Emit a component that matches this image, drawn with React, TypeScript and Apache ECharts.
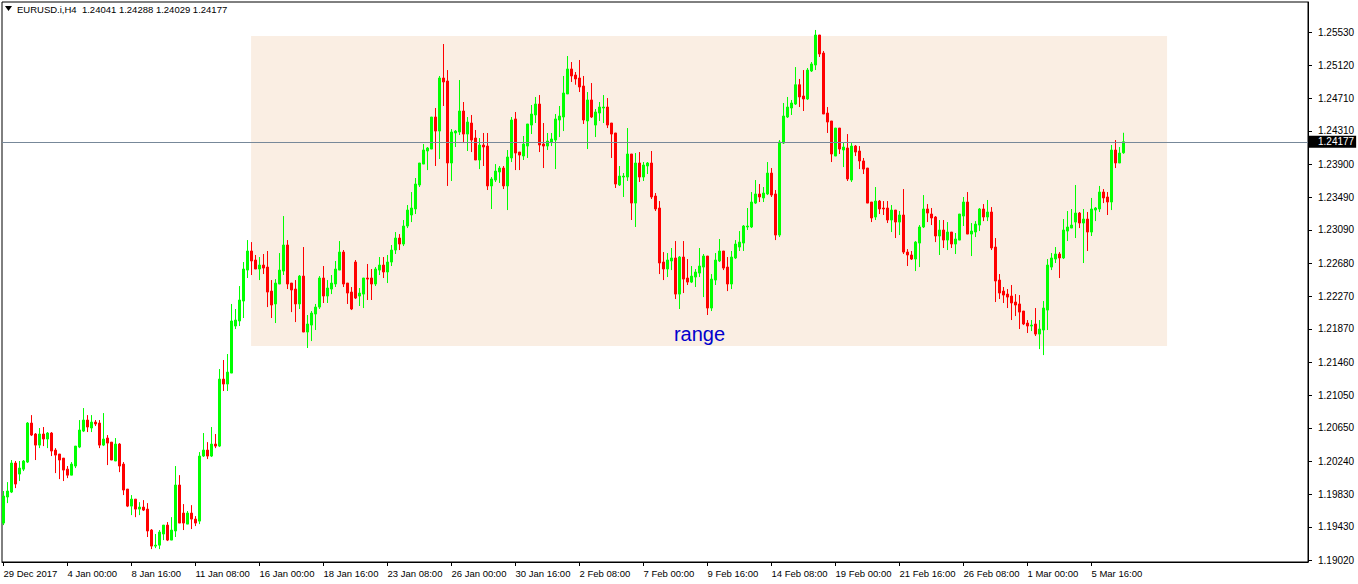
import React, { useEffect, useRef } from 'react';
import * as echarts from 'echarts';

// ---- chart text ----
const symbolTitle = 'EURUSD.i,H4';
const rangeText = 'range';

// ---- x axis: one label every 16 H4 bars ----
const barsPerLabel = 16;
const xLabels = [
  '29 Dec 2017', '4 Jan 00:00', '8 Jan 16:00', '11 Jan 08:00', '16 Jan 00:00', '18 Jan 16:00',
  '23 Jan 08:00', '26 Jan 00:00', '30 Jan 16:00', '2 Feb 08:00', '7 Feb 00:00', '9 Feb 16:00',
  '14 Feb 08:00', '19 Feb 00:00', '21 Feb 16:00', '26 Feb 08:00', '1 Mar 00:00', '5 Mar 16:00',
];

// ---- y axis ----
const yTicks = [
  1.1902, 1.1943, 1.1983, 1.2024, 1.2065, 1.2105, 1.2146, 1.2187, 1.2227,
  1.2268, 1.2309, 1.2349, 1.239, 1.2431, 1.2471, 1.2512, 1.2553,
];
const yMin = 1.18996;
const yMax = 1.259;
const xMin = -0.375;
const xMax = 326.125;

// ---- annotations ----
const bidPrice = 1.24177;
const rangeStartBar = 61.9;
const rangeEndBar = 290.9;
const rangeTop = 1.2548;
const rangeBottom = 1.2166;
const rangeLabelBar = 174;
const rangeLabelPrice = 1.2181;

// ---- OHLC (H4 bars) ----
const opens = [
  1.19476, 1.19797, 1.19858, 1.20216, 1.2008, 1.20141, 1.20228, 1.20709, 1.20574, 1.20437,
  1.20574, 1.20512, 1.20586, 1.20376, 1.20327, 1.20277, 1.20141, 1.20067, 1.20179, 1.20413,
  1.2061, 1.20746, 1.20648, 1.20721, 1.20709, 1.20437, 1.20524, 1.20474, 1.20241, 1.2045,
  1.20203, 1.19895, 1.19685, 1.19771, 1.19648, 1.19673, 1.19648, 1.1939, 1.19192, 1.19204,
  1.19341, 1.19451, 1.19266, 1.19378, 1.19945, 1.19599, 1.19463, 1.19599, 1.19525, 1.195,
  1.20302, 1.20376, 1.20302, 1.2045, 1.20425, 1.21251, 1.2119, 1.21325, 1.21905, 1.21967,
  1.22213, 1.22595, 1.2283, 1.22719, 1.22608, 1.22657, 1.22632, 1.22336, 1.22177, 1.22423,
  1.22583, 1.22904, 1.22435, 1.22361, 1.22177, 1.22521, 1.21831, 1.21917, 1.22053, 1.22139,
  1.22497, 1.22275, 1.22361, 1.22423, 1.22595, 1.22817, 1.22435, 1.22324, 1.22694, 1.22275,
  1.22299, 1.22497, 1.22497, 1.22423, 1.22595, 1.22657, 1.22571, 1.22694, 1.22842, 1.2299,
  1.22916, 1.23138, 1.23274, 1.23348, 1.23644, 1.23902, 1.24063, 1.24087, 1.24482, 1.24309,
  1.24963, 1.24926, 1.23915, 1.24285, 1.24297, 1.24556, 1.24272, 1.24408, 1.24223, 1.23952,
  1.24137, 1.24124, 1.23632, 1.23705, 1.23804, 1.23853, 1.23632, 1.23977, 1.24458, 1.2405,
  1.24001, 1.24124, 1.24383, 1.24507, 1.24642, 1.24149, 1.24124, 1.24174, 1.24198, 1.24445,
  1.24482, 1.24766, 1.25074, 1.25, 1.24963, 1.24864, 1.24433, 1.24692, 1.24383, 1.24531,
  1.24593, 1.24605, 1.24408, 1.24285, 1.23644, 1.23742, 1.23742, 1.24026, 1.23421, 1.23915,
  1.23742, 1.23878, 1.23915, 1.23508, 1.2336, 1.22694, 1.22608, 1.22707, 1.22744, 1.22299,
  1.22756, 1.22497, 1.22447, 1.22509, 1.22558, 1.22632, 1.22768, 1.22127, 1.22472, 1.22707,
  1.2283, 1.22632, 1.22423, 1.22744, 1.22879, 1.22928, 1.23126, 1.23126, 1.23421, 1.23533,
  1.23484, 1.23533, 1.23791, 1.23533, 1.23027, 1.24161, 1.24482, 1.24593, 1.24642, 1.2488,
  1.24741, 1.24704, 1.25049, 1.25123, 1.25493, 1.25271, 1.24531, 1.24433, 1.24001, 1.24346,
  1.24075, 1.241, 1.23705, 1.24124, 1.24063, 1.2394, 1.23853, 1.23434, 1.23249, 1.23446,
  1.2336, 1.2336, 1.23212, 1.23335, 1.23187, 1.23274, 1.22817, 1.22781, 1.22731, 1.22928,
  1.23126, 1.23348, 1.23286, 1.23249, 1.23015, 1.23089, 1.22965, 1.23064, 1.22916, 1.22965,
  1.23261, 1.23434, 1.23039, 1.23064, 1.2315, 1.23348, 1.23249, 1.23311, 1.22879, 1.22472,
  1.22336, 1.22299, 1.22275, 1.22201, 1.22177, 1.2209, 1.21942, 1.21905, 1.2193, 1.21806,
  1.21856, 1.22102, 1.22632, 1.22731, 1.22793, 1.22744, 1.23076, 1.23113, 1.23187, 1.23298,
  1.23175, 1.23224, 1.23064, 1.23335, 1.23348, 1.23557, 1.23496, 1.23434, 1.24075, 1.23915,
  1.24041,
];
const closes = [
  1.19809, 1.19871, 1.20216, 1.19957, 1.20154, 1.20241, 1.20709, 1.20561, 1.20437, 1.20574,
  1.20512, 1.20586, 1.20364, 1.20314, 1.20253, 1.20129, 1.20067, 1.20203, 1.20425, 1.20623,
  1.20746, 1.2066, 1.20721, 1.20697, 1.20437, 1.20512, 1.20462, 1.20253, 1.2045, 1.20179,
  1.19883, 1.19685, 1.19771, 1.19648, 1.19673, 1.19636, 1.19378, 1.19192, 1.19204, 1.19365,
  1.19451, 1.19266, 1.1939, 1.19945, 1.19476, 1.19476, 1.19599, 1.19525, 1.19476, 1.20302,
  1.20376, 1.20302, 1.2045, 1.20425, 1.21251, 1.2119, 1.21337, 1.21967, 1.21979, 1.22226,
  1.22608, 1.2283, 1.22707, 1.22608, 1.22657, 1.2262, 1.22324, 1.22164, 1.22435, 1.22595,
  1.22904, 1.22423, 1.22349, 1.22177, 1.22521, 1.21831, 1.2193, 1.22065, 1.22139, 1.22497,
  1.22275, 1.22374, 1.22435, 1.22608, 1.22817, 1.22423, 1.22312, 1.22115, 1.2225, 1.22312,
  1.22497, 1.22484, 1.22423, 1.22608, 1.22657, 1.22571, 1.22694, 1.22842, 1.2299, 1.22916,
  1.23138, 1.23335, 1.2336, 1.23656, 1.23915, 1.24075, 1.241, 1.24482, 1.24309, 1.24963,
  1.24914, 1.23915, 1.24297, 1.24309, 1.24556, 1.24272, 1.2442, 1.24198, 1.23952, 1.24137,
  1.24112, 1.23632, 1.23718, 1.23816, 1.23853, 1.23632, 1.23989, 1.24445, 1.24038, 1.24013,
  1.24149, 1.24396, 1.24519, 1.24642, 1.24137, 1.24124, 1.24186, 1.24211, 1.24458, 1.24494,
  1.24778, 1.25074, 1.24988, 1.24951, 1.24852, 1.24445, 1.24692, 1.24482, 1.24544, 1.24605,
  1.24605, 1.24383, 1.24272, 1.23656, 1.23754, 1.23754, 1.24026, 1.23421, 1.23915, 1.23742,
  1.2389, 1.23915, 1.23496, 1.23348, 1.22682, 1.22608, 1.22719, 1.22744, 1.22299, 1.22756,
  1.22484, 1.22447, 1.22521, 1.22571, 1.22645, 1.22768, 1.22127, 1.22484, 1.22719, 1.2283,
  1.2262, 1.22423, 1.22756, 1.22916, 1.2294, 1.23138, 1.23138, 1.23434, 1.23533, 1.23496,
  1.23545, 1.23791, 1.2352, 1.23027, 1.24174, 1.24494, 1.24605, 1.24655, 1.2488, 1.24729,
  1.24704, 1.25061, 1.25136, 1.25493, 1.25259, 1.24519, 1.2442, 1.24026, 1.24346, 1.24087,
  1.24112, 1.23718, 1.24124, 1.2405, 1.2394, 1.2384, 1.23421, 1.23237, 1.23446, 1.23348,
  1.23348, 1.23212, 1.23335, 1.23187, 1.23274, 1.22817, 1.22781, 1.22731, 1.2294, 1.23126,
  1.23348, 1.23298, 1.23237, 1.23015, 1.23089, 1.22965, 1.23064, 1.22916, 1.22978, 1.23286,
  1.23434, 1.23039, 1.23076, 1.23162, 1.23348, 1.23249, 1.23311, 1.22867, 1.2246, 1.22312,
  1.22287, 1.22262, 1.22189, 1.22164, 1.22077, 1.2193, 1.21905, 1.21917, 1.21806, 1.21868,
  1.22127, 1.22657, 1.22744, 1.22793, 1.22744, 1.23089, 1.23126, 1.2315, 1.23298, 1.23175,
  1.23224, 1.23064, 1.23348, 1.2336, 1.23557, 1.23484, 1.23434, 1.24075, 1.23915, 1.24038,
  1.24177,
];
const lows = [
  1.19451, 1.19722, 1.19846, 1.19907, 1.19994, 1.20117, 1.20216, 1.20549, 1.20253, 1.204,
  1.20425, 1.204, 1.20302, 1.20092, 1.20018, 1.19994, 1.2003, 1.20067, 1.20154, 1.204,
  1.20598, 1.20598, 1.20598, 1.20672, 1.204, 1.20425, 1.20191, 1.20253, 1.20241, 1.20104,
  1.19821, 1.19673, 1.19574, 1.19549, 1.19574, 1.19624, 1.19304, 1.19155, 1.19167, 1.19155,
  1.19266, 1.19254, 1.19266, 1.19304, 1.19476, 1.1939, 1.19463, 1.19402, 1.19439, 1.19463,
  1.2029, 1.20265, 1.2029, 1.204, 1.20413, 1.21104, 1.21104, 1.21325, 1.21868, 1.21905,
  1.22004, 1.22497, 1.22534, 1.22608, 1.22472, 1.22546, 1.22139, 1.22004, 1.21942, 1.22423,
  1.22534, 1.22361, 1.22077, 1.21954, 1.22115, 1.21831, 1.21634, 1.2172, 1.21856, 1.22115,
  1.22189, 1.22189, 1.22299, 1.22386, 1.22595, 1.22386, 1.22177, 1.22102, 1.22238, 1.22152,
  1.22127, 1.22226, 1.22226, 1.22398, 1.22534, 1.22497, 1.22435, 1.22645, 1.22793, 1.22842,
  1.22891, 1.23113, 1.23187, 1.23286, 1.23619, 1.23902, 1.23828, 1.24087, 1.23878, 1.23964,
  1.24618, 1.23632, 1.23693, 1.24112, 1.2426, 1.24161, 1.24063, 1.2405, 1.23952, 1.2384,
  1.23878, 1.23582, 1.23348, 1.23681, 1.23669, 1.23594, 1.23335, 1.23927, 1.23828, 1.23828,
  1.23952, 1.23977, 1.24272, 1.24408, 1.2405, 1.23853, 1.24075, 1.24124, 1.2384, 1.24235,
  1.24309, 1.24766, 1.24914, 1.2488, 1.2479, 1.24396, 1.24087, 1.2447, 1.24235, 1.24433,
  1.24408, 1.24346, 1.23977, 1.23607, 1.23632, 1.23496, 1.23693, 1.23212, 1.23126, 1.23681,
  1.23693, 1.23779, 1.23471, 1.23323, 1.22546, 1.22472, 1.22509, 1.22595, 1.22238, 1.22115,
  1.22312, 1.22411, 1.22435, 1.22386, 1.22509, 1.22262, 1.22041, 1.2209, 1.22411, 1.22694,
  1.22595, 1.22336, 1.22361, 1.22731, 1.2283, 1.2283, 1.23089, 1.23113, 1.23409, 1.23434,
  1.23434, 1.2352, 1.23496, 1.22965, 1.23002, 1.24149, 1.2447, 1.24507, 1.2463, 1.24605,
  1.24556, 1.24692, 1.25037, 1.25061, 1.25222, 1.24519, 1.24285, 1.23927, 1.24001, 1.24026,
  1.23865, 1.23693, 1.23681, 1.24001, 1.2384, 1.23779, 1.23421, 1.23187, 1.23212, 1.23286,
  1.23274, 1.23175, 1.23064, 1.2299, 1.23027, 1.22793, 1.22645, 1.22719, 1.22583, 1.22632,
  1.23113, 1.23187, 1.2315, 1.2294, 1.22781, 1.22867, 1.22842, 1.22867, 1.22793, 1.22965,
  1.23138, 1.23039, 1.22768, 1.23002, 1.23076, 1.23199, 1.23199, 1.22842, 1.22201, 1.22238,
  1.22189, 1.22127, 1.21979, 1.22028, 1.21868, 1.21917, 1.21819, 1.21843, 1.21782, 1.21621,
  1.21547, 1.21856, 1.22595, 1.22682, 1.22497, 1.22731, 1.22953, 1.23113, 1.2299, 1.23113,
  1.22682, 1.2283, 1.23015, 1.23199, 1.23311, 1.23421, 1.23274, 1.23335, 1.23853, 1.23915,
  1.24029,
];
const highs = [
  1.19871, 1.19981, 1.20253, 1.20241, 1.20241, 1.20253, 1.20721, 1.20807, 1.20586, 1.20648,
  1.2066, 1.20598, 1.20598, 1.204, 1.20327, 1.20277, 1.20179, 1.20228, 1.20425, 1.20746,
  1.20894, 1.20807, 1.20807, 1.20746, 1.20746, 1.20832, 1.20561, 1.20474, 1.20524, 1.20462,
  1.20228, 1.19895, 1.19821, 1.19771, 1.19734, 1.19759, 1.19722, 1.19402, 1.19341, 1.1939,
  1.19451, 1.19488, 1.19549, 1.20179, 1.20067, 1.1971, 1.19624, 1.19697, 1.19562, 1.20351,
  1.20586, 1.20474, 1.2066, 1.20574, 1.21375, 1.21486, 1.2156, 1.22177, 1.22115, 1.22398,
  1.22694, 1.22965, 1.2294, 1.22781, 1.22756, 1.22793, 1.2283, 1.22472, 1.22484, 1.22805,
  1.23261, 1.22965, 1.22435, 1.22472, 1.22534, 1.22879, 1.22041, 1.2209, 1.22177, 1.22521,
  1.22645, 1.22472, 1.22534, 1.22707, 1.22953, 1.22842, 1.22435, 1.22386, 1.22719, 1.22374,
  1.22497, 1.2267, 1.22608, 1.22632, 1.22756, 1.22756, 1.22781, 1.22904, 1.23064, 1.23039,
  1.23212, 1.23397, 1.23557, 1.2373, 1.23915, 1.24149, 1.24112, 1.24482, 1.24593, 1.24988,
  1.25382, 1.25061, 1.24334, 1.24322, 1.24938, 1.24667, 1.24482, 1.24507, 1.24322, 1.24223,
  1.24285, 1.24285, 1.23742, 1.23902, 1.23878, 1.23878, 1.24075, 1.24482, 1.24544, 1.2405,
  1.24248, 1.24396, 1.2463, 1.24729, 1.24753, 1.24408, 1.24285, 1.24285, 1.24519, 1.24618,
  1.24988, 1.25234, 1.2516, 1.25037, 1.25185, 1.24988, 1.2479, 1.24901, 1.24581, 1.24667,
  1.24753, 1.24716, 1.24408, 1.24285, 1.23878, 1.23791, 1.24346, 1.24026, 1.24038, 1.2405,
  1.23927, 1.23927, 1.24063, 1.23545, 1.23446, 1.22817, 1.22805, 1.22867, 1.22953, 1.22768,
  1.22953, 1.22731, 1.22645, 1.22608, 1.22867, 1.22793, 1.22768, 1.22546, 1.22805, 1.22978,
  1.2283, 1.22756, 1.2283, 1.22965, 1.23076, 1.2315, 1.2336, 1.23557, 1.23705, 1.23656,
  1.23619, 1.23927, 1.23853, 1.23582, 1.24198, 1.24655, 1.24729, 1.24692, 1.25098, 1.24951,
  1.25061, 1.25086, 1.2516, 1.25555, 1.25493, 1.25296, 1.24605, 1.24433, 1.24346, 1.24346,
  1.24174, 1.24272, 1.24161, 1.24137, 1.24124, 1.23977, 1.23853, 1.23434, 1.23619, 1.23459,
  1.23446, 1.23446, 1.23397, 1.23335, 1.23323, 1.23594, 1.22854, 1.2283, 1.22953, 1.2315,
  1.2352, 1.23409, 1.2336, 1.23261, 1.23212, 1.23212, 1.23187, 1.23064, 1.23052, 1.23286,
  1.23496, 1.23557, 1.23175, 1.23199, 1.2336, 1.23409, 1.23459, 1.23372, 1.2299, 1.22546,
  1.22386, 1.22361, 1.22411, 1.22299, 1.22287, 1.2209, 1.21979, 1.21979, 1.22127, 1.21979,
  1.22213, 1.22731, 1.22805, 1.22879, 1.22817, 1.23224, 1.23323, 1.23348, 1.23644, 1.23311,
  1.23348, 1.23311, 1.23484, 1.23372, 1.23632, 1.23594, 1.23557, 1.24137, 1.24198, 1.24112,
  1.24288,
];

const FONT = 'Arial, "Liberation Sans", sans-serif';

export default function App() {
  const ref = useRef<HTMLDivElement>(null);

  useEffect(() => {
    document.body.style.margin = '0';
    const chart = echarts.init(ref.current as HTMLDivElement, null, { renderer: 'svg' });

    const data = opens.map((o, i) => [i, o, closes[i], lows[i], highs[i]]);
    const xTickBars = xLabels.map((_, k) => k * barsPerLabel);
    const last = opens.length - 1;
    const header =
      symbolTitle + '  ' +
      [opens[last], highs[last], lows[last], closes[last]].map((v) => v.toFixed(5)).join(' ');

    chart.setOption({
      animation: false,
      backgroundColor: '#ffffff',
      textStyle: { fontFamily: FONT },
      grid: {
        left: 2, top: 2, width: 1306, height: 560,
        show: true, borderColor: '#000', borderWidth: 1, backgroundColor: 'transparent',
      },
      xAxis: {
        type: 'value',
        min: xMin,
        max: xMax,
        axisLine: { show: true, onZero: false, lineStyle: { color: '#000', width: 1 } },
        axisTick: { show: true, length: 4, lineStyle: { color: '#000' }, customValues: xTickBars },
        axisLabel: {
          customValues: xTickBars,
          formatter: (v: number) => xLabels[Math.round(v / barsPerLabel)] ?? '',
          align: 'left',
          color: '#000',
          fontSize: 9.5,
          fontFamily: FONT,
          margin: 6,
        },
        splitLine: { show: false },
      },
      yAxis: {
        type: 'value',
        position: 'right',
        min: yMin,
        max: yMax,
        scale: true,
        axisLine: { show: true, onZero: false, lineStyle: { color: '#000', width: 1 } },
        axisTick: { show: true, length: 4, lineStyle: { color: '#000' }, customValues: yTicks },
        axisLabel: {
          customValues: yTicks,
          formatter: (v: number) => v.toFixed(5),
          color: '#000',
          fontSize: 10,
          fontFamily: FONT,
          margin: 10,
        },
        splitLine: { show: false },
      },
      graphic: [
        { type: 'polygon', shape: { points: [[5, 6], [12, 6], [8.5, 11]] }, style: { fill: '#000' } },
        {
          type: 'text', x: 17, y: 9,
          style: { text: header, fontSize: 9.5, fontFamily: FONT, fill: '#000', verticalAlign: 'middle' },
        },
      ],
      series: [
        {
          type: 'candlestick',
          data,
          encode: { x: 0, y: [1, 2, 3, 4] },
          barWidth: 2,
          silent: true,
          emphasis: { disabled: true },
          itemStyle: {
            color: '#00ff00',
            color0: '#ff0000',
            borderColor: '#00ff00',
            borderColor0: '#ff0000',
            borderColorDoji: '#00ff00',
            borderWidth: 1,
          },
          markArea: {
            silent: true,
            itemStyle: { color: '#faeee3' },
            data: [[{ coord: [rangeStartBar, rangeTop] }, { coord: [rangeEndBar, rangeBottom] }]],
          },
          markPoint: {
            silent: true,
            symbol: 'rect',
            symbolSize: [1, 1],
            itemStyle: { color: 'rgba(0,0,0,0)' },
            label: {
              show: true,
              position: 'inside',
              formatter: rangeText,
              color: '#0000cd',
              fontSize: 20,
              fontFamily: FONT,
            },
            data: [{ coord: [rangeLabelBar, rangeLabelPrice], value: rangeText }],
          },
          markLine: {
            silent: true,
            symbol: ['none', 'none'],
            lineStyle: { color: '#778899', width: 1, type: 'solid' },
            label: {
              show: true,
              position: 'end',
              distance: 1,
              formatter: bidPrice.toFixed(5),
              color: '#fff',
              backgroundColor: '#000',
              padding: [1, 2, 1, 9],
              fontSize: 10,
              fontFamily: FONT,
            },
            data: [[{ coord: [xMin, bidPrice] }, { coord: [xMax, bidPrice] }]],
          },
        },
      ],
    });

    return () => chart.dispose();
  }, []);

  return <div ref={ref} style={{ width: 1358, height: 584 }} />;
}
